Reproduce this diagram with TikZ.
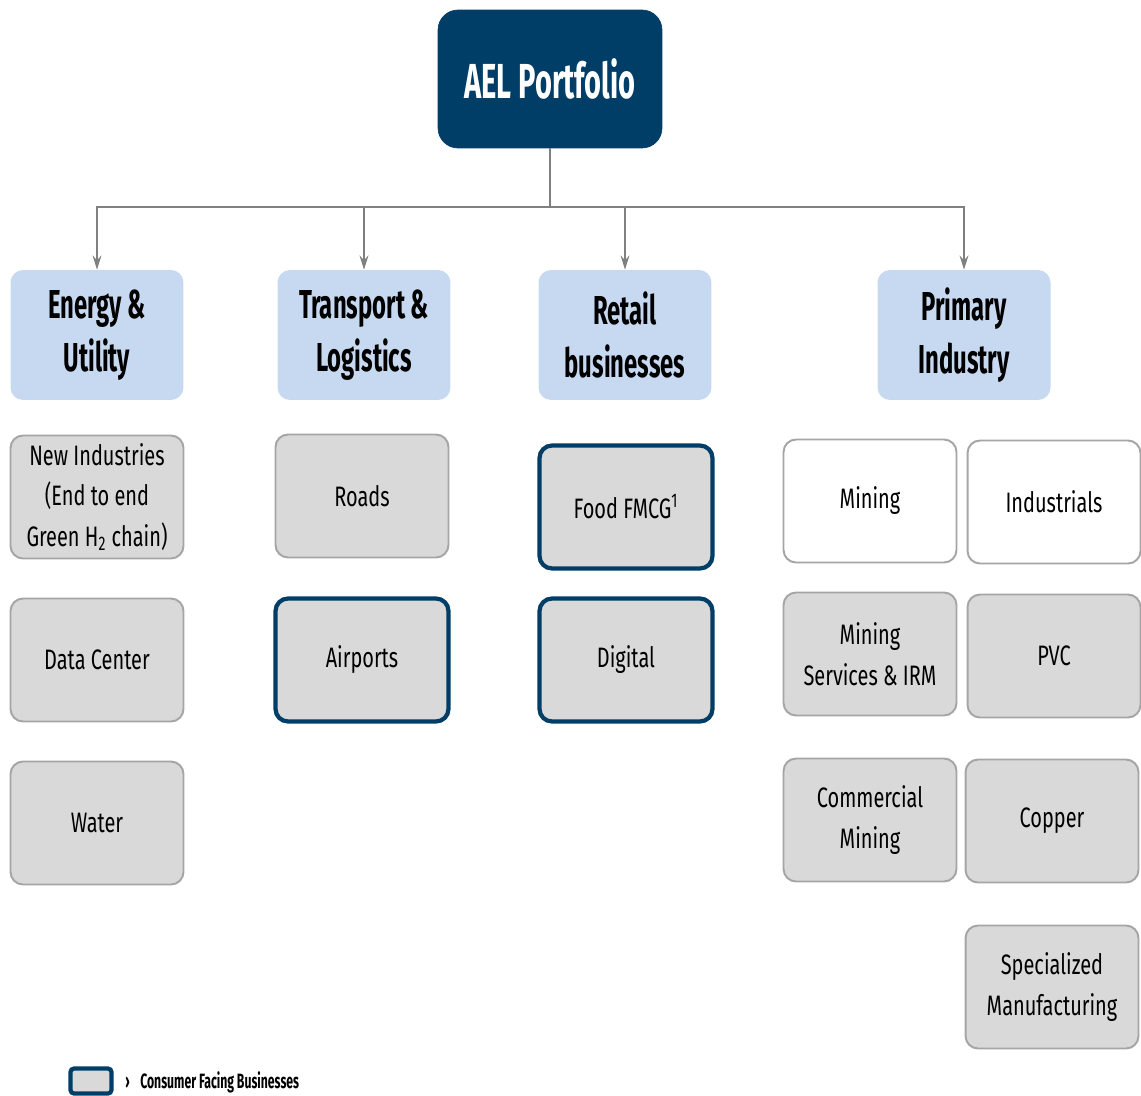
\documentclass[tikz,border=0pt]{standalone}
\usepackage{fontspec}
\setmainfont{Fira Sans}[FakeStretch=0.71]
\newfontfamily\headfont{Fira Sans}[FakeStretch=0.59]
\usetikzlibrary{positioning}
\usetikzlibrary{arrows.meta}

\definecolor{aeldark}{RGB}{0,62,104}
\definecolor{aellight}{RGB}{198,217,241}
\definecolor{aelgray}{RGB}{217,217,217}
\definecolor{aelline}{RGB}{165,165,165}
\definecolor{aelconn}{RGB}{128,128,128}

\tikzset{
  titlebox/.style={rectangle,rounded corners=0.4cm,fill=aeldark,draw=aeldark,text=white,
    minimum width=4.48cm,minimum height=2.76cm,font=\headfont\fontsize{28}{32}\selectfont\bfseries},
  headbox/.style={rectangle,rounded corners=0.25cm,fill=aellight,draw=none,align=center,
    minimum width=3.46cm,minimum height=2.6cm,font=\headfont\fontsize{23}{30}\selectfont\bfseries},
  subbox/.style={rectangle,rounded corners=0.25cm,fill=aelgray,draw=aelline,line width=1.1pt,
    align=center,minimum width=3.46cm,minimum height=2.46cm,font=\fontsize{16}{23}\selectfont},
  cfbox/.style={subbox,draw=aeldark,line width=2.4pt},
  whitebox/.style={subbox,fill=white},
  conn/.style={draw=aelconn,line width=1.2pt},
  arr/.style={conn,-{Stealth[length=8pt,width=5pt]}}
}

\begin{document}
\begin{tikzpicture}[x=0.02cm,y=-0.02cm]
\useasboundingbox (0,0) rectangle (1141,1095);

\node[titlebox] (ael) at (550,79) {AEL Portfolio};

\node[headbox] (energy) at (97,335) {Energy \&\\Utility};
\node[headbox] (transport) at (364,335) {Transport \&\\Logistics};
\node[headbox] (retail) at (625,335) {Retail\\businesses};
\node[headbox] (primary) at (964,335) {Primary\\Industry};

\coordinate (bus) at (550,207);
\draw[conn] (ael.south) -- (bus);
\draw[arr] (bus) -| (energy.north);
\draw[arr] (bus) -| (transport.north);
\draw[arr] (bus) -| (retail.north);
\draw[arr] (bus) -| (primary.north);

% energy & utility
\node[subbox] (newind) at (97,497) {New Industries\\(End to end\\Green H\textsubscript{2} chain)};
\node[subbox] (datacenter) at (97,660) {Data Center};
\node[subbox] (water) at (97,823) {Water};

% transport & logistics
\node[subbox] (roads) at (362,496) {Roads};
\node[cfbox] (airports) at (362,660) {Airports};

% retail
\node[cfbox] (food) at (626,507) {Food FMCG\textsuperscript{1}};
\node[cfbox] (digital) at (626,660) {Digital};

% primary industry
\node[whitebox] (mining) at (870,501) {Mining};
\node[whitebox] (industrials) at (1054,502) {Industrials};
\node[subbox] (miningsrv) at (870,654) {Mining\\Services \& IRM};
\node[subbox] (pvc) at (1054,656) {PVC};
\node[subbox] (commining) at (870,820) {Commercial\\Mining};
\node[subbox] (copper) at (1052,821) {Copper};
\node[subbox] (specman) at (1052,987) {Specialized\\Manufacturing};

% legend
\node[cfbox,minimum width=0.82cm,minimum height=0.5cm,rounded corners=2pt] (legbox) at (91,1081) {};
\node[anchor=west,inner sep=0pt,font=\headfont\fontsize{11.8}{13}\selectfont\bfseries] (legtext) at (125,1082) {›\hspace{6pt}Consumer Facing Businesses};

\end{tikzpicture}
\end{document}
